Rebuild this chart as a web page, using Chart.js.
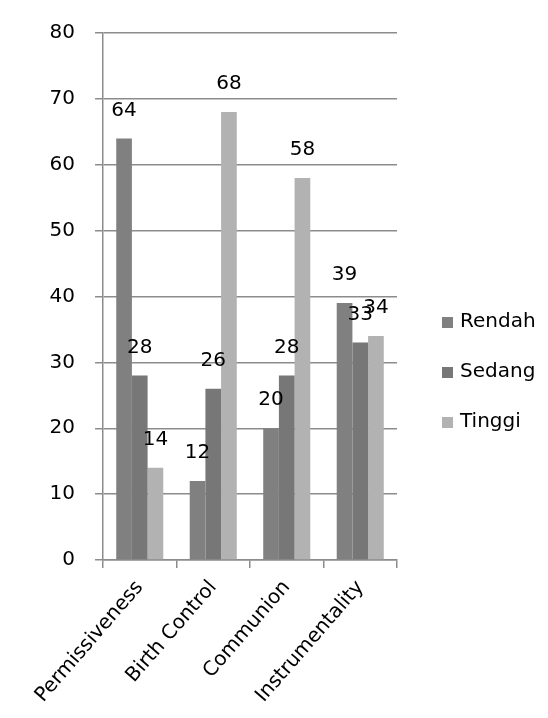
<!DOCTYPE html>
<html>
<head>
<meta charset="utf-8">
<script src="https://cdn.jsdelivr.net/npm/chart.js@4"></script>
<style>
  body { margin: 0; background: #fff; }
  #wrap { width: 548px; height: 718px; }
</style>
</head>
<body>
<div id="wrap"><canvas id="myChart" width="548" height="718"></canvas></div>
<script>
const categories = ["Permissiveness", "Birth Control", "Communion", "Instrumentality"];
const rendah = [64, 12, 20, 39];
const sedang = [28, 26, 28, 33];
const tinggi = [14, 68, 58, 34];
const yTicks = [0, 10, 20, 30, 40, 50, 60, 70, 80];

const FONT = "'DejaVu Sans', sans-serif";

// value labels above each bar
const valueLabels = {
  id: "valueLabels",
  afterDatasetsDraw(chart) {
    let ctx = chart.ctx;
    ctx.save();
    ctx.font = "20px " + FONT;
    ctx.fillStyle = "#000";
    ctx.textAlign = "center";
    ctx.textBaseline = "middle";
    chart.data.datasets.forEach((ds, i) => {
      chart.getDatasetMeta(i).data.forEach((bar, j) => {
        ctx.fillText(ds.data[j], bar.x, bar.y - 28);
      });
    });
    ctx.restore();
  }
};

// legend on the right, drawn like the original
const sideLegend = {
  id: "sideLegend",
  afterDraw(chart) {
    let ctx = chart.ctx;
    ctx.save();
    ctx.font = "20px " + FONT;
    ctx.textBaseline = "middle";
    chart.data.datasets.forEach((ds, i) => {
      let y = 322 + i * 50;
      ctx.fillStyle = ds.backgroundColor;
      ctx.fillRect(442, y - 5, 11, 11);
      ctx.fillStyle = "#000";
      ctx.fillText(ds.label, 460, y);
    });
    ctx.restore();
  }
};

new Chart(document.getElementById("myChart"), {
  type: "bar",
  data: {
    labels: categories,
    datasets: [
      { label: "Rendah", data: rendah, backgroundColor: "#808080" },
      { label: "Sedang", data: sedang, backgroundColor: "#777777" },
      { label: "Tinggi", data: tinggi, backgroundColor: "#b2b2b2" }
    ]
  },
  options: {
    responsive: false,
    animation: false,
    layout: { padding: { left: 0, right: 151, top: 33, bottom: 0 } },
    datasets: { bar: { categoryPercentage: 0.64, barPercentage: 1 } },
    plugins: { legend: { display: false }, tooltip: { enabled: false } },
    scales: {
      x: {
        afterFit(scale) { scale.height = 158; },
        grid: { display: true, drawOnChartArea: false, color: "#8c8c8c", lineWidth: 1.5, tickLength: 8 },
        border: { color: "#8c8c8c", width: 1.5 },
        ticks: {
          color: "#000", font: { family: FONT, size: 20 },
          minRotation: 49, maxRotation: 49, padding: 8
        }
      },
      y: {
        min: 0, max: 80,
        afterFit(scale) { scale.width = 103; },
        afterBuildTicks(scale) { scale.ticks = yTicks.map(v => ({ value: v })); },
        grid: { color: "#8c8c8c", lineWidth: 1.5, tickLength: 8 },
        border: { color: "#8c8c8c", width: 1.5 },
        ticks: { color: "#000", font: { family: FONT, size: 20 }, padding: 20 }
      }
    }
  },
  plugins: [valueLabels, sideLegend]
});
</script>
</body>
</html>
